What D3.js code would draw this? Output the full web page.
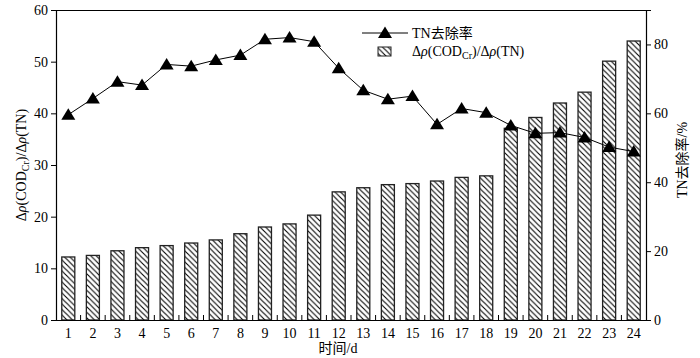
<!DOCTYPE html>
<html><head><meta charset="utf-8">
<script src="https://cdn.jsdelivr.net/npm/d3@7"></script>
<style>
html,body{margin:0;padding:0;background:#fff;}
text{font-family:"Liberation Serif","Noto Sans CJK SC",serif;fill:#000;}
</style></head>
<body>
<svg id="c" width="700" height="358"></svg>
<script>
const days = d3.range(1, 25);
const ratio = [12.2,12.5,13.4,14.0,14.4,14.9,15.5,16.7,18.0,18.6,20.3,24.8,25.6,26.2,26.4,26.9,27.6,27.9,37.1,39.2,42.0,44.1,50.1,54.0];
const tnRemoval = [59.6,64.3,69.2,68.2,74.2,73.7,75.5,76.9,81.5,82.0,80.8,73.1,66.7,64.1,65.0,56.8,61.4,60.2,56.5,54.2,54.4,53.0,50.2,48.9];
const leftTicks = [0,10,20,30,40,50,60];
const rightTicks = [0,20,40,60,80];

const svg = d3.select("#c");
const L = 56, R = 646, T = 10, B = 320;

const x = d3.scaleBand().domain(days).range([L, R]).paddingInner(0.47).paddingOuter(0.235);
const yL = d3.scaleLinear().domain([0, 60]).range([B, T]);
const yR = d3.scaleLinear().domain([0, 90]).range([B, T]);

const P = 5.5;
const defs = svg.append("defs");
const pat = defs.append("pattern").attr("id","hatch").attr("patternUnits","userSpaceOnUse")
  .attr("width",P).attr("height",P);
pat.append("rect").attr("width",P).attr("height",P).attr("fill","#fff");
pat.append("path").attr("d",`M-1,-1L${P+1},${P+1}M-1,${P-1}L1,${P+1}M${P-1},-1L${P+1},1`)
  .attr("stroke","#000").attr("stroke-width",1.1);

// bars
svg.append("g").selectAll("rect").data(days).join("rect")
  .attr("x", d => x(d)).attr("width", x.bandwidth())
  .attr("y", (d,i) => yL(ratio[i])).attr("height", (d,i) => B - yL(ratio[i]))
  .attr("fill","url(#hatch)").attr("stroke","#222").attr("stroke-width",1.3);

// frame
svg.append("line").attr("x1",L).attr("x2",R).attr("y1",T+0.5).attr("y2",T+0.5).attr("stroke","#000").attr("stroke-width",1.2);

// left axis
const gl = svg.append("g").attr("transform",`translate(${L},0)`)
  .call(d3.axisLeft(yL).tickValues(leftTicks).tickSize(5).tickPadding(3).tickFormat(d3.format("d")));
// right axis
const gr = svg.append("g").attr("transform",`translate(${R},0)`)
  .call(d3.axisRight(yR).tickValues(rightTicks).tickSize(5).tickPadding(3).tickFormat(d3.format("d")));
// bottom axis
const gb = svg.append("g").attr("transform",`translate(0,${B})`)
  .call(d3.axisBottom(x).tickSize(0).tickPadding(8));
[gl,gr,gb].forEach(g => {
  g.selectAll("text").style("font-size","14px").style("font-family",'"Liberation Serif",serif');
  g.select(".domain").attr("stroke","#000").attr("stroke-width",1.2);
  g.selectAll(".tick line").attr("stroke","#000").attr("stroke-width",1);
});
gb.select(".domain").attr("d",`M${L},0.5H${R}`);
// inward x ticks at category boundaries
const step = x.step();
svg.append("g").selectAll("line").data(days.slice(0,-1)).join("line")
  .attr("x1", d => x(d) + x.bandwidth() + step*x.paddingInner()/2)
  .attr("x2", d => x(d) + x.bandwidth() + step*x.paddingInner()/2)
  .attr("y1", B).attr("y2", B-5).attr("stroke","#000").attr("stroke-width",1);

// line
const line = d3.line().x((d,i) => x(days[i]) + x.bandwidth()/2).y(d => yR(d));
svg.append("path").datum(tnRemoval).attr("d", line).attr("fill","none").attr("stroke","#000").attr("stroke-width",1);
const tri = "M0,-6.5L7,5L-7,5Z";
svg.append("g").selectAll("path").data(tnRemoval).join("path")
  .attr("transform",(d,i) => `translate(${x(days[i]) + x.bandwidth()/2},${yR(d)})`)
  .attr("d", tri).attr("fill","#000");

// legend
const lg = svg.append("g");
lg.append("line").attr("x1",362).attr("x2",408).attr("y1",33).attr("y2",33).attr("stroke","#000").attr("stroke-width",1);
lg.append("path").attr("d",tri).attr("transform","translate(385,33)").attr("fill","#000");
lg.append("text").attr("x",412).attr("y",38).style("font-size","14px").text("TN去除率");
lg.append("rect").attr("x",378).attr("y",47).attr("width",13).attr("height",9)
  .attr("fill","url(#hatch)").attr("stroke","#222").attr("stroke-width",1);
const t2 = lg.append("text").attr("x",412).attr("y",56).style("font-size","14px");
function ratioLabel(t){
  t.append("tspan").text("Δ");
  t.append("tspan").style("font-style","italic").text("ρ");
  t.append("tspan").text("(COD");
  t.append("tspan").attr("dy",3).style("font-size","10px").text("Cr");
  t.append("tspan").attr("dy",-3).text(")/Δ");
  t.append("tspan").style("font-style","italic").text("ρ");
  t.append("tspan").text("(TN)");
}
ratioLabel(t2);

// axis titles
const t3 = svg.append("text").attr("transform","translate(26,165) rotate(-90)").attr("text-anchor","middle").style("font-size","14px");
ratioLabel(t3);
svg.append("text").attr("transform","translate(687,160) rotate(-90)").attr("text-anchor","middle").style("font-size","14px").text("TN去除率/%");
svg.append("text").attr("x",338).attr("y",353).attr("text-anchor","middle").style("font-size","14px").text("时间/d");
</script>
</body></html>
